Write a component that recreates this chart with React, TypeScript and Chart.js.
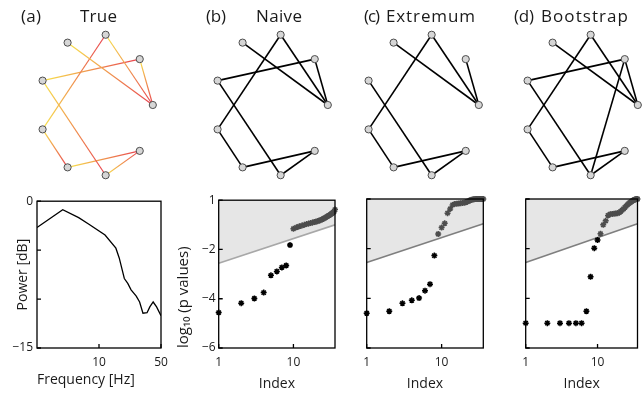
import React, { useEffect, useLayoutEffect, useRef } from "react";
import { Chart, registerables } from "chart.js";

Chart.register(...registerables);

const FONT = "'Open Sans', 'DejaVu Sans', sans-serif";
Chart.defaults.font.family = FONT;

// ---------- network graphs ----------
const nodeX = [1.0, 0.77, 0.17, -0.5, -0.94, -0.94, -0.5, 0.17, 0.77];
const nodeY = [0.0, 0.64, 0.98, 0.87, 0.34, -0.34, -0.87, -0.98, -0.64];

// edges as [yellow end, red end]
const trueEdges = [[3, 0], [2, 0], [1, 0], [5, 2], [4, 1], [4, 7], [5, 6], [6, 8], [7, 8]];
const naiveEdges = [[3, 0], [2, 0], [1, 0], [5, 2], [4, 1], [4, 7], [5, 6], [6, 8], [7, 8]];
const extremumEdges = [[3, 0], [2, 0], [1, 0], [5, 2], [4, 7], [5, 6], [6, 8], [7, 8]];
const bootstrapEdges = [[3, 0], [2, 0], [1, 0], [5, 2], [4, 1], [4, 7], [5, 6], [6, 8], [7, 8], [1, 7]];

// ---------- power spectrum ----------
const freqHz = [2, 3.9, 5.9, 7.7, 11.7, 15.5, 16.9, 19.3, 21.1, 23, 26.3, 28.7, 31.3, 34.8, 37.4, 40.8, 44.6, 50];
const powerDb = [-2.69, -0.87, -1.68, -2.35, -3.46, -4.8, -5.8, -7.9, -8.4, -9.06, -9.7, -10.3, -11.45, -11.4, -10.8, -10.3, -10.8, -11.7];
const specXTicks = [10, 50];
const specXTickLabels = ["10", "50"];
const specYTicks = [0, -5, -10, -15];
const specYTickLabels = ["0", "", "", "\u221215"];

// ---------- p values ----------
const testIndex = [1, 2, 3, 4, 5, 6, 7, 8, 9, 10, 11, 12, 13, 14, 15, 16, 17, 18, 19, 20, 21, 22, 23, 24, 25, 26, 27, 28, 29, 30, 31, 32, 33, 34, 35, 36];
const naiveLogP = [-4.56, -4.18, -3.99, -3.75, -3.05, -2.89, -2.73, -2.65, -1.82, -1.16, -1.1, -1.06, -1.03, -1.0, -0.97, -0.95, -0.93, -0.91, -0.89, -0.87, -0.85, -0.83, -0.81, -0.78, -0.76, -0.73, -0.7, -0.67, -0.64, -0.62, -0.59, -0.56, -0.53, -0.5, -0.46, -0.38];
const extremumLogP = [-4.6, -4.52, -4.2, -4.08, -3.99, -3.69, -3.43, -2.28, -1.41, -1.15, -0.98, -0.57, -0.4, -0.24, -0.2, -0.19, -0.18, -0.17, -0.16, -0.15, -0.13, -0.11, -0.08, -0.05, -0.03, -0.02, -0.01, 0, 0, 0, 0, 0, 0, 0, 0, 0];
const bootstrapLogP = [-5.0, -5.0, -5.0, -5.0, -5.0, -5.0, -4.52, -3.13, -1.98, -1.65, -1.4, -1.04, -0.88, -0.66, -0.61, -0.6, -0.59, -0.58, -0.57, -0.55, -0.5, -0.45, -0.4, -0.34, -0.29, -0.24, -0.19, -0.15, -0.12, -0.09, -0.06, -0.04, -0.02, -0.01, 0, 0];
const naiveBelow = 9;
const extremumBelow = 8;
const bootstrapBelow = 10;
const thresholdIndex = [1, 36];
const thresholdLogP = [-2.56, -1.0];
const pXTicks = [1, 10];
const pXTickLabels = ["1", "10"];
const pYTicks = [0, -2, -4, -6];
const pYTickLabels = ["1", "\u22122", "\u22124", "\u22126"];

const TEXT = "#1a1a1a";

const framePlugin = {
  id: "frame",
  afterDraw(chart: any, _args: any, opts: any) {
    if (!opts || !opts.show) return;
    const { ctx, chartArea: a } = chart;
    ctx.save();
    ctx.strokeStyle = "#000";
    ctx.lineWidth = 1.3;
    const tl = 4;
    const xs = chart.scales.x;
    const ys = chart.scales.y;
    ctx.beginPath();
    xs.ticks.forEach((t: any) => {
      const p = xs.getPixelForValue(t.value);
      ctx.moveTo(p, a.bottom);
      ctx.lineTo(p, a.bottom - tl);
    });
    ys.ticks.forEach((t: any) => {
      const p = ys.getPixelForValue(t.value);
      ctx.moveTo(a.left, p);
      ctx.lineTo(a.left + tl, p);
    });
    ctx.stroke();
    ctx.strokeRect(a.left, a.top, a.right - a.left, a.bottom - a.top);
    ctx.restore();
  },
};

function grad(c: any, a: number, b: number) {
  const ch = c.chart;
  const fallback = "#f0a040";
  const xs = ch.scales && ch.scales.x;
  const ys = ch.scales && ch.scales.y;
  if (!xs || !ys) return fallback;
  const x0 = xs.getPixelForValue(nodeX[a]);
  const y0 = ys.getPixelForValue(nodeY[a]);
  const x1 = xs.getPixelForValue(nodeX[b]);
  const y1 = ys.getPixelForValue(nodeY[b]);
  if (![x0, y0, x1, y1].every((v) => Number.isFinite(v))) return fallback;
  const g = ch.ctx.createLinearGradient(x0, y0, x1, y1);
  g.addColorStop(0, "#f7e44c");
  g.addColorStop(1, "#e8404f");
  return g;
}

function networkConfig(edges: number[][], colored: boolean) {
  const nodes = nodeX.map((x, i) => ({ x, y: nodeY[i] }));
  const edgeSets = edges.map(([a, b]) => ({
    data: [
      { x: nodeX[a], y: nodeY[a] },
      { x: nodeX[b], y: nodeY[b] },
    ],
    showLine: true,
    borderColor: colored ? (c: any) => grad(c, a, b) : "#000",
    borderWidth: colored ? 1.2 : 1.6,
    pointRadius: 0,
    fill: false,
    order: 2,
  }));
  return {
    type: "line",
    data: {
      datasets: [
        {
          data: nodes,
          showLine: false,
          pointRadius: 3.6,
          pointBackgroundColor: "#d6d6d6",
          pointBorderColor: "#4d4d4d",
          pointBorderWidth: 1,
          order: 0,
        },
        ...edgeSets,
      ],
    },
    options: {
      responsive: false,
      animation: false,
      devicePixelRatio: 1,
      layout: { padding: 0 },
      plugins: { legend: { display: false }, tooltip: { enabled: false } },
      scales: {
        x: { type: "linear", display: false, min: -1.197, max: 1.197 },
        y: { type: "linear", display: false, min: -1.158, max: 1.158 },
      },
    },
  };
}

function pConfig(values: number[], nBelow: number, lineColor: string, showY: boolean, yW: number, padR: number) {
  return {
    type: "line",
    data: {
      datasets: [
        {
          data: testIndex.map((x, i) => ({ x, y: values[i] })),
          showLine: false,
          pointStyle: "star",
          pointRadius: 3,
          pointBorderWidth: 1.5,
          pointBorderColor: (c: any) => (c.dataIndex < nBelow ? "#000" : "#4d4d4d"),
          pointBackgroundColor: (c: any) => (c.dataIndex < nBelow ? "#000" : "#4d4d4d"),
          order: 0,
          clip: 4,
        },
        {
          data: thresholdIndex.map((x, i) => ({ x, y: thresholdLogP[i] })),
          showLine: true,
          fill: "end",
          backgroundColor: "#e6e6e6",
          borderColor: lineColor,
          borderWidth: 1.6,
          pointRadius: 0,
          order: 1,
        },
      ],
    },
    options: {
      responsive: false,
      animation: false,
      devicePixelRatio: 1,
      layout: { padding: { top: 9, right: padR, left: 0, bottom: 0 } },
      plugins: { legend: { display: false }, tooltip: { enabled: false }, frame: { show: true } },
      scales: {
        x: {
          type: "logarithmic",
          min: 1,
          max: 36,
          grid: { display: false, drawTicks: false },
          border: { display: false },
          afterBuildTicks: (s: any) => {
            s.ticks = pXTicks.map((v) => ({ value: v }));
          },
          ticks: {
            callback: (_v: any, i: number) => pXTickLabels[i],
            font: { size: 12 },
            color: TEXT,
            padding: 7,
            maxRotation: 0,
            autoSkip: false,
          },
          title: { display: true, text: "Index", font: { size: 14 }, color: TEXT, padding: { top: 0, bottom: 7 } },
          afterFit: (s: any) => {
            s.height = 51;
          },
        },
        y: {
          type: "linear",
          min: -6,
          max: 0,
          grid: { display: false, drawTicks: false },
          border: { display: false },
          afterBuildTicks: (s: any) => {
            s.ticks = pYTicks.map((v) => ({ value: v }));
          },
          ticks: {
            display: showY,
            callback: (_v: any, i: number) => pYTickLabels[i],
            font: { size: 12 },
            color: TEXT,
            padding: 3,
          },
          title: {
            display: showY,
            text: "log\u2081\u2080 (p values)",
            align: "start",
            font: { size: 15 },
            color: TEXT,
            padding: { top: 0, bottom: 0 },
          },
          afterFit: (s: any) => {
            s.width = yW;
          },
        },
      },
    },
    plugins: [framePlugin],
  };
}

function spectrumConfig() {
  return {
    type: "line",
    data: {
      datasets: [
        {
          data: freqHz.map((x, i) => ({ x, y: powerDb[i] })),
          borderColor: "#000",
          borderWidth: 1.3,
          pointRadius: 0,
          fill: false,
          tension: 0,
        },
      ],
    },
    options: {
      responsive: false,
      animation: false,
      devicePixelRatio: 1,
      layout: { padding: { top: 9, right: 14, left: 0, bottom: 0 } },
      plugins: { legend: { display: false }, tooltip: { enabled: false }, frame: { show: true } },
      scales: {
        x: {
          type: "logarithmic",
          min: 2,
          max: 50,
          grid: { display: false, drawTicks: false },
          border: { display: false },
          afterBuildTicks: (s: any) => {
            s.ticks = specXTicks.map((v) => ({ value: v }));
          },
          ticks: {
            callback: (_v: any, i: number) => specXTickLabels[i],
            font: { size: 12 },
            color: TEXT,
            padding: 7,
            maxRotation: 0,
            autoSkip: false,
          },
          title: {
            display: true,
            text: "Frequency [Hz]",
            align: "start",
            font: { size: 14 },
            color: TEXT,
            padding: { top: 0, bottom: 11 },
          },
          afterFit: (s: any) => {
            s.height = 51;
          },
        },
        y: {
          type: "linear",
          min: -15,
          max: 0,
          grid: { display: false, drawTicks: false },
          border: { display: false },
          afterBuildTicks: (s: any) => {
            s.ticks = specYTicks.map((v) => ({ value: v }));
          },
          ticks: {
            callback: (_v: any, i: number) => specYTickLabels[i],
            font: { size: 12 },
            color: TEXT,
            padding: 4,
            autoSkip: false,
          },
          title: { display: true, text: "Power [dB]", font: { size: 14 }, color: TEXT, padding: { top: 15, bottom: 0 } },
          afterFit: (s: any) => {
            s.width = 37;
          },
        },
      },
    },
    plugins: [framePlugin],
  };
}

function ChartCanvas({ left, top, width, height, build }: any) {
  const ref = useRef<HTMLCanvasElement>(null);
  useEffect(() => {
    const chart = new Chart(ref.current as HTMLCanvasElement, build());
    return () => chart.destroy();
  }, []);
  return (
    <canvas
      ref={ref}
      width={width}
      height={height}
      style={{ position: "absolute", left, top, width, height }}
    />
  );
}

function Title({ left, width, text }: { left: number; width: number; text: string }) {
  const ref = useRef<HTMLSpanElement>(null);
  useLayoutEffect(() => {
    const el = ref.current;
    if (!el) return;
    el.style.letterSpacing = "0px";
    const w = el.getBoundingClientRect().width;
    const n = Math.max(text.length - 1, 1);
    el.style.letterSpacing = (width - w) / n + "px";
  }, []);
  return (
    <span
      ref={ref}
      style={{
        position: "absolute",
        left,
        top: 6,
        fontFamily: FONT,
        fontSize: 17,
        lineHeight: "20px",
        color: TEXT,
        whiteSpace: "nowrap",
      }}
    >
      {text}
    </span>
  );
}

export default function App() {
  return (
    <div
      style={{
        position: "fixed",
        left: 0,
        top: 0,
        width: 643,
        height: 399,
        overflow: "hidden",
        background: "#fff",
      }}
    >
      <ChartCanvas left={22.5} top={17.2} width={146} height={176} build={() => networkConfig(trueEdges, true)} />
      <ChartCanvas left={198.3} top={17.2} width={146} height={176} build={() => networkConfig(naiveEdges, false)} />
      <ChartCanvas left={349.3} top={17.2} width={146} height={176} build={() => networkConfig(extremumEdges, false)} />
      <ChartCanvas left={508.3} top={17.2} width={146} height={176} build={() => networkConfig(bootstrapEdges, false)} />

      <ChartCanvas left={0} top={190} width={175} height={209} build={() => spectrumConfig()} />
      <ChartCanvas left={175} top={190} width={170} height={209} build={() => pConfig(naiveLogP, naiveBelow, "#a8a8a8", true, 43.7, 10)} />
      <ChartCanvas left={345} top={190} width={155} height={209} build={() => pConfig(extremumLogP, extremumBelow, "#7f7f7f", false, 21.7, 16.7)} />
      <ChartCanvas left={500} top={190} width={143} height={209} build={() => pConfig(bootstrapLogP, bootstrapBelow, "#7f7f7f", false, 25.7, 1.3)} />

      <Title left={21} width={20} text="(a)" />
      <Title left={80} width={37} text="True" />
      <Title left={206} width={20} text="(b)" />
      <Title left={256} width={46} text="Naive" />
      <Title left={364} width={16} text="(c)" />
      <Title left={386} width={89} text="Extremum" />
      <Title left={514} width={20} text="(d)" />
      <Title left={541} width={87} text="Bootstrap" />
    </div>
  );
}
